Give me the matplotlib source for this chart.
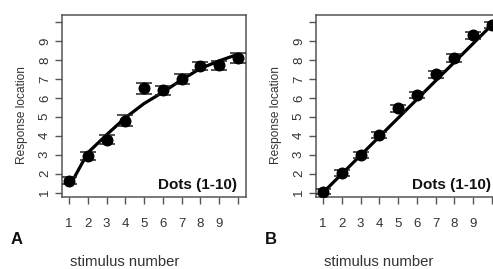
import matplotlib
matplotlib.use("Agg")
import matplotlib.pyplot as plt

plt.rcParams['font.family'] = ['Liberation Sans', 'DejaVu Sans']

# Data
stim = [1, 2, 3, 4, 5, 6, 7, 8, 9, 10]
a_resp = [1.62, 2.95, 3.8, 4.8, 6.5, 6.4, 7.0, 7.68, 7.72, 8.1]
a_err = [0.18, 0.22, 0.26, 0.3, 0.3, 0.25, 0.26, 0.22, 0.24, 0.28]
a_fit_x = [1.2, 2, 3, 4, 5, 6, 7, 8, 9, 10]
a_fit_y = [1.65, 3.1, 4.05, 4.95, 5.7, 6.3, 6.95, 7.55, 7.95, 8.3]

b_resp = [1.05, 2.05, 3.0, 4.05, 5.45, 6.15, 7.25, 8.1, 9.3, 9.84]
b_err = [0.14, 0.15, 0.15, 0.16, 0.18, 0.17, 0.18, 0.2, 0.17, 0.15]
b_fit_x = [1, 10]
b_fit_y = [1.0, 9.85]

tick_vals = [1, 2, 3, 4, 5, 6, 7, 8, 9, 10]
tick_labels = ['1', '2', '3', '4', '5', '6', '7', '8', '9', '']
panel_letters = ['A', 'B']
label_text = 'Dots (1-10)'

W, H = 493, 269
fig = plt.figure(figsize=(W / 100, H / 100), dpi=100)

frame_col = '#555555'
text_col = '#333333'

def make_panel(left_px, resp, err, fx, fy, letter):
    ax = fig.add_axes([left_px / W, 1 - 197 / H, 184 / W, 182 / H])
    ax.plot(fx, fy, color='black', lw=2.3, zorder=2, solid_capstyle='butt')
    ax.errorbar(stim, resp, yerr=err, fmt='o', color='black', ms=7.6,
                ecolor='#222222', elinewidth=1.1, capsize=5.5, capthick=1.1,
                zorder=3)
    ax.set_xlim(0.627, 10.43)
    ax.set_ylim(0.77, 10.37)
    ax.set_xticks(tick_vals)
    ax.set_xticklabels(tick_labels)
    ax.set_yticks(tick_vals)
    ax.set_yticklabels(tick_labels, rotation=90, va='center')
    ax.tick_params(axis='both', direction='out', length=5, width=1.0,
                   color=frame_col, labelcolor=text_col, labelsize=9.5)
    ax.tick_params(axis='x', pad=10)
    ax.tick_params(axis='y', pad=3)
    for s in ax.spines.values():
        s.set_color(frame_col)
        s.set_linewidth(1.1)
    fig.text((left_px + 175.5) / W, 1 - 185 / H, label_text, ha='right',
             va='center', fontsize=11, fontweight='bold', color='#111111')
    fig.text((left_px - 40) / W, 1 - 115 / H, 'Response location',
             rotation=90, ha='center', va='center', fontsize=8.6,
             color=text_col)
    fig.text((left_px - 45) / W, 1 - 239 / H, letter, ha='center',
             va='center', fontsize=12, fontweight='bold', color='#111111')
    fig.text((left_px + 63) / W, 1 - 262 / H, 'stimulus number',
             ha='center', va='center', fontsize=10.7, color=text_col)
    return ax

make_panel(62, a_resp, a_err, a_fit_x, a_fit_y, panel_letters[0])
make_panel(316, b_resp, b_err, b_fit_x, b_fit_y, panel_letters[1])

fig.savefig('out.png', dpi=100)
